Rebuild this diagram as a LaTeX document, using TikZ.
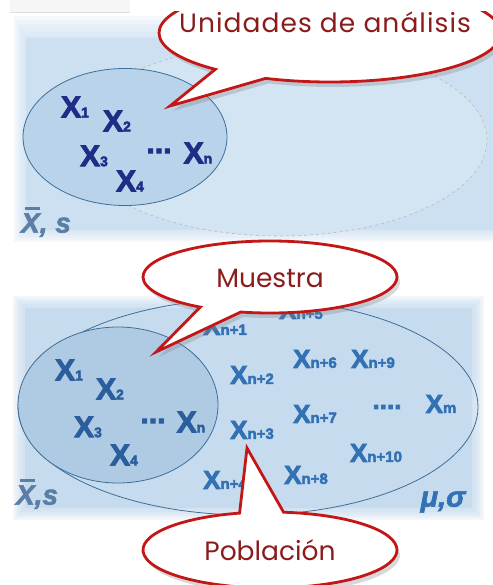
\documentclass[tikz,border=0pt]{standalone}
\usepackage{fontspec}
\setmainfont{Liberation Sans}
\newfontfamily\callfont{Poppins}
\newfontfamily\callfontwide{Poppins}[LetterSpace=4]
\newfontfamily\xfont{Liberation Sans Bold}[FakeBold=3]
\newfontfamily\statfont{Liberation Sans Bold Italic}[FakeBold=2]
\usetikzlibrary{shapes.geometric,shapes.callouts,shadows}
\definecolor{panelA}{HTML}{CDE0F1}
\definecolor{panelB}{HTML}{C6DBEE}
\definecolor{innerA}{HTML}{B9D3EA}
\definecolor{innerB}{HTML}{AFCBE4}
\definecolor{edgeblue}{HTML}{3F6E98}
\definecolor{navy}{HTML}{1F2D86}
\definecolor{midblue}{HTML}{2B5E9E}
\definecolor{popblue}{HTML}{3272B4}
\definecolor{statgray}{HTML}{5A7EA6}
\definecolor{callred}{HTML}{C41616}
\definecolor{calltext}{HTML}{8A1C1C}
\newcommand\ix[1]{{\fontsize{14}{14}\selectfont #1}}
\newcommand\px[1]{{\fontsize{15}{15}\selectfont #1}}
\newcommand\ctext[3]{\raisebox{-#1}[0pt][0pt]{\makebox[0pt]{\hspace{#2}#3}}}
\tikzset{
  topx/.style={font=\xfont\fontsize{30}{30}\selectfont, text=navy, inner sep=0pt},
  botx/.style={font=\xfont\fontsize{30}{30}\selectfont, text=midblue, inner sep=0pt},
  popx/.style={font=\xfont\fontsize{26}{26}\selectfont, text=popblue, inner sep=0pt},
  statlab/.style={font=\statfont\fontsize{28}{28}\selectfont, text=statgray, inner sep=0pt},
  popstat/.style={font=\statfont\fontsize{29}{29}\selectfont, text=popblue, inner sep=0pt},
  setell/.style={ellipse, draw=edgeblue, line width=0.8pt, inner sep=0pt},
  bubble/.style={ellipse callout, draw=callred, line width=2.8pt, fill=white,
    text=calltext, font=\callfont\fontsize{26.5}{26.5}\selectfont, inner sep=0pt,
    callout pointer arc=20,
    drop shadow={opacity=0.3, shadow xshift=3pt, shadow yshift=-5pt}},
}
\begin{document}
\begin{tikzpicture}[x=1pt,y=-1pt]
\useasboundingbox (0,0) rectangle (492,585);
\fill[white] (0,0) rectangle (492,585);
% top panel
\foreach \d in {0,2,...,10} { \fill[panelA, opacity=0.18] (14+\d,16+2*\d) rectangle (495,242-\d); }
\fill[panelA] (26,38) rectangle (495,230);
% bottom panel
\foreach \d in {0,2,...,10} { \fill[panelB, opacity=0.2] (13+\d,296+\d) rectangle (484-\d,520-\d); }
\fill[panelB] (25,308) rectangle (472,508);

% top ellipses
\node[ellipse, draw=gray!55, dashed, line width=0.6pt, fill=panelA!88!white, minimum width=414pt, minimum height=192pt] (units) at (280,140) {};
\node[setell, fill=innerA, minimum width=204pt, minimum height=137pt] (sample1) at (125,137) {};
\node[topx] (a1) at (75,107) {X\ix{1}};
\node[topx] (a2) at (117,121) {X\ix{2}};
\node[topx] (a3) at (94,156) {X\ix{3}};
\node[topx] (adots) at (159,151) {...};
\node[topx] (an) at (198,153) {X\ix{n}};
\node[topx] (a4) at (130,181) {X\ix{4}};
\node[statlab] (astat) at (46,222) {\rlap{\hspace{4pt}\raisebox{23pt}{\rule{15pt}{2.5pt}}}X, s};

% bottom ellipses
\node[setell, minimum width=460pt, minimum height=216pt] (pop) at (248,407) {};
\node[setell, fill=innerB, minimum width=200pt, minimum height=156pt] (sample2) at (118,405) {};
\node[botx] (b1) at (69,370) {X\ix{1}};
\node[botx] (b2) at (110,389) {X\ix{2}};
\node[botx] (b3) at (88,427) {X\ix{3}};
\node[botx] (bdots) at (153,421) {...};
\node[botx] (bn) at (191,422) {X\ix{n}};
\node[botx] (b4) at (124,455) {X\ix{4}};
\node[statlab] (bstat) at (37,494) {\rlap{\hspace{4pt}\raisebox{23pt}{\rule{15pt}{2.5pt}}}X,s};

\node[popx] (p5) at (301,310) {X\px{n+5}};
\node[popx] (p1) at (225,326) {X\px{n+1}};
\node[popx] (p6) at (315,359) {X\px{n+6}};
\node[popx] (p9) at (373,359) {X\px{n+9}};
\node[popx] (p2) at (252,375) {X\px{n+2}};
\node[popx] (p7) at (315,414) {X\px{n+7}};
\node[popx] (pdots) at (387,407) {....};
\node[popx] (pm) at (441,404) {X\px{m}};
\node[popx] (p3) at (252,430) {X\px{n+3}};
\node[popx] (p10) at (376,453) {X\px{n+10}};
\node[popx] (p8) at (306,475) {X\px{n+8}};
\node[popx] (p4) at (225,480) {X\px{n+4}};
\node[popstat] (pstat) at (443,502) {μ,σ};

% callouts
\coordinate (tipU) at (170,106);
\coordinate (tipM) at (156,352);
\coordinate (tipP) at (247,448);
\node[bubble, minimum width=342pt, minimum height=98pt, callout absolute pointer={(tipU)}] (cU) at (330,33) {\ctext{0pt}{-10pt}{\callfontwide Unidades de análisis}};
\node[bubble, minimum width=254pt, minimum height=72pt, callout absolute pointer={(tipM)}] (cM) at (270,277) {\ctext{10pt}{0pt}{Muestra}};
\node[bubble, minimum width=254pt, minimum height=76pt, callout absolute pointer={(tipP)}] (cP) at (270,550) {\ctext{10pt}{0pt}{Población}};

% white strip and faint bar at the very top
\fill[white] (0,0) rectangle (492,11);
\fill[gray!7] (10,0) rectangle (130,12);
\draw[gray!25, line width=0.8pt] (10,12) -- (130,12);
\end{tikzpicture}
\end{document}
